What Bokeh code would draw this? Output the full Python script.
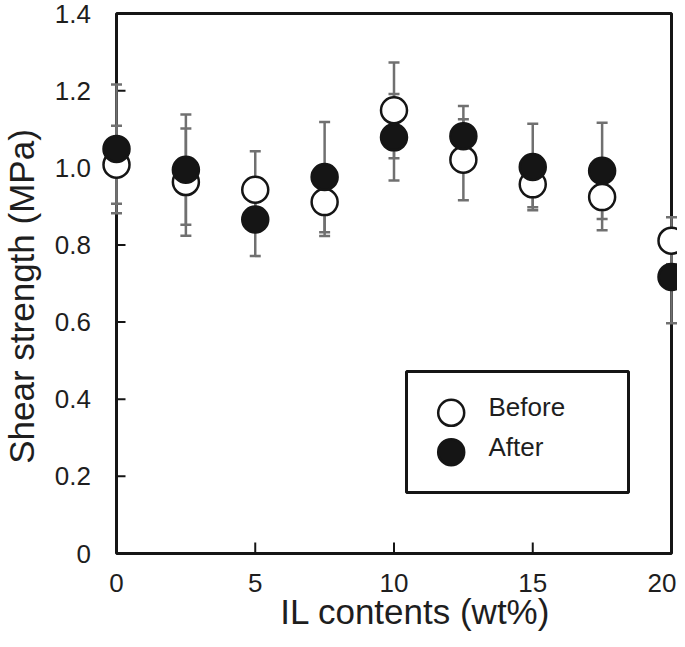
import math
from bokeh.plotting import figure
from bokeh.models import Range1d
from bokeh.embed import file_html
from bokeh.resources import INLINE
from bokeh.core.properties import value

# ---------------- data ----------------
il_content = [0, 2.5, 5, 7.5, 10, 12.5, 15, 17.5, 20]
before_mean = [1.008, 0.963, 0.943, 0.911, 1.149, 1.021, 0.957, 0.924, 0.811]
before_err = [0.101, 0.139, 0.100, 0.088, 0.124, 0.105, 0.059, 0.086, 0.061]
after_mean = [1.049, 0.995, 0.866, 0.976, 1.079, 1.082, 1.002, 0.992, 0.717]
after_err = [0.167, 0.143, 0.095, 0.143, 0.112, 0.078, 0.112, 0.125, 0.120]

x_ticks = [0, 5, 10, 15, 20]
x_tick_labels = ["0", "5", "10", "15", "20"]
y_ticks = [0, 0.2, 0.4, 0.6, 0.8, 1.0, 1.2, 1.4]
y_tick_labels = ["0", "0.2", "0.4", "0.6", "0.8", "1.0", "1.2", "1.4"]
legend_labels = ["Before", "After"]
x_title = "IL contents (wt%)"
y_title = "Shear strength (MPa)"
X_MIN, X_MAX = 0, 20
Y_MIN, Y_MAX = 0, 1.4

# ---------------- layout (canvas px) ----------------
W, H = 677, 631
BOX_L, BOX_R, BOX_T, BOX_B = 116, 671, 13, 553
PPX = (BOX_R - BOX_L) / (X_MAX - X_MIN)
PPY = (BOX_B - BOX_T) / (Y_MAX - Y_MIN)


def dx(px):
    return X_MIN + (px - BOX_L) / PPX


def dy(py):
    return Y_MIN + (BOX_B - py) / PPY


FONT = "Liberation Sans"
TXT = "#1e1e1e"
GRAY = "#707070"
DARK = "#151515"
MSIZE = 26
TICK_FS = 26
LABEL_HALF_W = 0.556 * TICK_FS  # half width of a two-digit label

p = figure(width=W, height=H, output_backend="svg", toolbar_location=None,
           title=None, x_axis_location=None, y_axis_location=None,
           x_range=Range1d(dx(0), dx(W)), y_range=Range1d(dy(H), dy(0)),
           min_border=0, min_border_left=0, min_border_right=0,
           min_border_top=0, min_border_bottom=0)
p.outline_line_color = None
p.grid.visible = False
p.background_fill_color = "white"
p.border_fill_color = "white"

# frame box
p.quad(left=[X_MIN], right=[X_MAX], bottom=[Y_MIN], top=[Y_MAX],
       fill_color=None, line_color=DARK, line_width=3)

# inward ticks
yt = [t for t in y_ticks if Y_MIN < t < Y_MAX]
p.segment(x0=[X_MIN] * len(yt), y0=yt, x1=[X_MIN + 9 / PPX] * len(yt), y1=yt,
          line_color=DARK, line_width=2)
xt = [t for t in x_ticks if X_MIN < t < X_MAX]
p.segment(x0=xt, y0=[Y_MIN] * len(xt), x1=xt, y1=[Y_MIN + 11 / PPY] * len(xt),
          line_color=DARK, line_width=2)

# tick labels
p.text(x=[dx(90.5)] * len(y_ticks), y=y_ticks,
       text=y_tick_labels, text_font=value(FONT), text_font_size=f"{TICK_FS}px",
       text_color=TXT, text_align="right", text_baseline="middle")
# keep the last label inside the canvas
x_label_pos = [min(t, dx(W - 1 - LABEL_HALF_W)) for t in x_ticks]
p.text(x=x_label_pos, y=[dy(582.8)] * len(x_ticks), text=x_tick_labels,
       text_font=value(FONT), text_font_size=f"{TICK_FS}px", text_color=TXT,
       text_align="center", text_baseline="middle")

# error bars
hw = 5.5 / PPX
for mean, err in ((before_mean, before_err), (after_mean, after_err)):
    lo = [m - e for m, e in zip(mean, err)]
    hi = [m + e for m, e in zip(mean, err)]
    p.segment(x0=il_content, y0=lo, x1=il_content, y1=hi, line_color=GRAY, line_width=2.5)
    for yy in (lo, hi):
        p.segment(x0=[x - hw for x in il_content], y0=yy,
                  x1=[x + hw for x in il_content], y1=yy,
                  line_color=GRAY, line_width=2.5)

# markers
p.scatter(il_content, before_mean, marker="circle", size=MSIZE, fill_color="white",
          line_color=DARK, line_width=2.5)
p.scatter(il_content, after_mean, marker="circle", size=MSIZE, fill_color=DARK,
          line_color=DARK, line_width=2.5)

# legend (manual)
p.quad(left=[dx(406)], right=[dx(628)], top=[dy(371)], bottom=[dy(492)],
       fill_color="white", line_color=DARK, line_width=3)
p.scatter([dx(450.7)], [dy(412.3)], marker="circle", size=MSIZE, fill_color="white",
          line_color=DARK, line_width=2.5)
p.scatter([dx(450.7)], [dy(451.7)], marker="circle", size=MSIZE, fill_color=DARK,
          line_color=DARK, line_width=2.5)
p.text(x=[dx(488), dx(488)], y=[dy(406.2), dy(446.3)], text=legend_labels,
       text_font=value(FONT), text_font_size="26px", text_color=TXT,
       text_baseline="middle", text_align="left")

# axis titles
p.text(x=[dx(415)], y=[dy(610.5)], text=[x_title], text_font=value(FONT),
       text_font_size="35px", text_color=TXT, text_align="center",
       text_baseline="middle")
p.text(x=[dx(20.5)], y=[dy(296)], text=[y_title], text_font=value(FONT),
       text_font_size="35px", text_color=TXT, text_align="center",
       text_baseline="middle", angle=math.pi / 2)

open("out.html", "w").write(file_html(p, INLINE))
